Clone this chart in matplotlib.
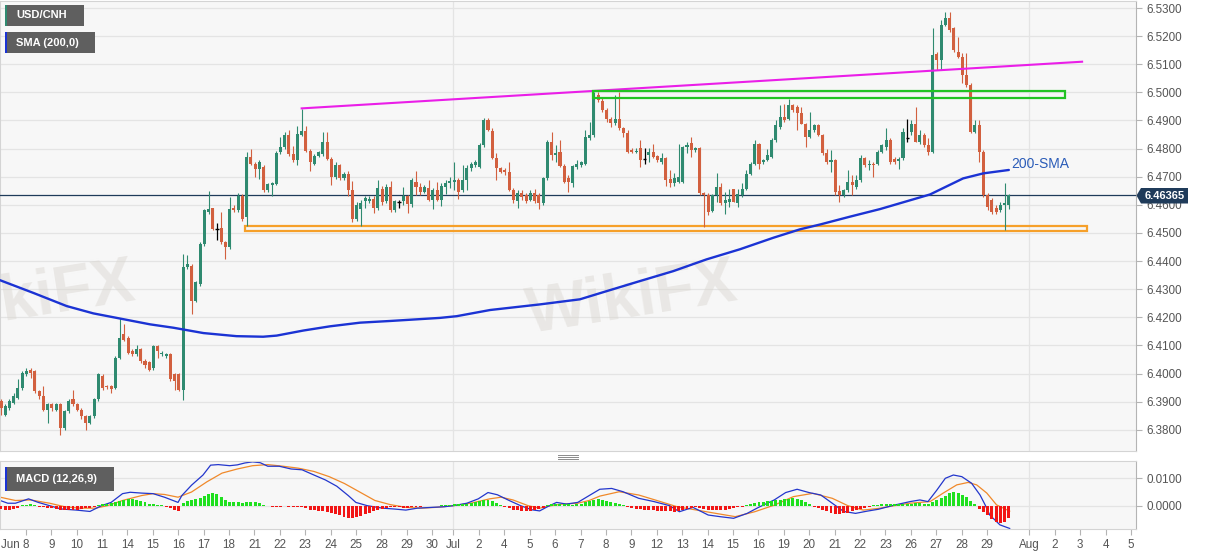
import numpy as np
import matplotlib
matplotlib.use("Agg")
import matplotlib.pyplot as plt
from matplotlib.patches import Rectangle, Polygon
from matplotlib.lines import Line2D
from matplotlib.ticker import FormatStrFormatter
import matplotlib.transforms as mtransforms

plt.rcParams["font.family"] = ["Liberation Sans", "DejaVu Sans"]

# ---------------------------------------------------------------------------
# USD/CNH 4H candles, 8 Jun - 29 Jul
# ---------------------------------------------------------------------------
opens = [
    6.3902, 6.3854, 6.3878, 6.3896, 6.3914, 6.3949, 6.3997, 6.4014, 6.4009, 6.3937,
    6.3920, 6.3872, 6.3890, 6.3872, 6.3890, 6.3807, 6.3866, 6.3908, 6.3890, 6.3870,
    6.3850, 6.3825, 6.3848, 6.3908, 6.3993, 6.3955, 6.3955, 6.3950, 6.4056, 6.4140,
    6.4127, 6.4080, 6.4068, 6.4086, 6.4044, 6.4040, 6.4020, 6.4097, 6.4068, 6.4062,
    6.4068, 6.3997, 6.3997, 6.3943, 6.4378, 6.4384, 6.4259, 6.4319, 6.4461, 6.4574,
    6.4588, 6.4515, 6.4518, 6.4467, 6.4449, 6.4588, 6.4580, 6.4633, 6.4556, 6.4770,
    6.4746, 6.4728, 6.4734, 6.4651, 6.4670, 6.4675, 6.4787, 6.4805, 6.4847, 6.4781,
    6.4758, 6.4849, 6.4864, 6.4793, 6.4746, 6.4775, 6.4781, 6.4823, 6.4764, 6.4698,
    6.4740, 6.4694, 6.4710, 6.4651, 6.4550, 6.4584, 6.4612, 6.4614, 6.4621, 6.4588,
    6.4655, 6.4612, 6.4663, 6.4582, 6.4611, 6.4612, 6.4630, 6.4603, 6.4683, 6.4663,
    6.4647, 6.4659, 6.4618, 6.4651, 6.4618, 6.4663, 6.4677, 6.4683, 6.4689, 6.4651,
    6.4689, 6.4730, 6.4740, 6.4736, 6.4813, 6.4900, 6.4861, 6.4766, 6.4730, 6.4724,
    6.4718, 6.4653, 6.4612, 6.4641, 6.4635, 6.4618, 6.4641, 6.4635, 6.4605, 6.4694,
    6.4824, 6.4777, 6.4789, 6.4738, 6.4697, 6.4676, 6.4733, 6.4741, 6.4747, 6.4836,
    6.4848, 6.4991, 6.4970, 6.4939, 6.4907, 6.4890, 6.4904, 6.4872, 6.4854, 6.4795,
    6.4789, 6.4801, 6.4763, 6.4777, 6.4789, 6.4773, 6.4753, 6.4765, 6.4691, 6.4679,
    6.4682, 6.4682, 6.4807, 6.4819, 6.4795, 6.4801, 6.4641, 6.4635, 6.4577, 6.4634,
    6.4664, 6.4605, 6.4611, 6.4658, 6.4608, 6.4634, 6.4656, 6.4711, 6.4747, 6.4818,
    6.4753, 6.4759, 6.4771, 6.4830, 6.4877, 6.4913, 6.4907, 6.4955, 6.4949, 6.4925,
    6.4889, 6.4842, 6.4866, 6.4883, 6.4848, 6.4783, 6.4753, 6.4759, 6.4649, 6.4634,
    6.4652, 6.4682, 6.4664, 6.4688, 6.4765, 6.4741, 6.4747, 6.4747, 6.4789, 6.4807,
    6.4830, 6.4762, 6.4755, 6.4765, 6.4839, 6.4860, 6.4889, 6.4824, 6.4848, 6.4812,
    6.4789, 6.5135, 6.5115, 6.5240, 6.5263, 6.5228, 6.5145, 6.5127, 6.5062, 6.5026,
    6.4860, 6.4884, 6.4789, 6.4635, 6.4617, 6.4587, 6.4581, 6.4599, 6.4599,
]
highs = [
    6.3908, 6.3890, 6.3908, 6.3931, 6.3979, 6.4009, 6.4020, 6.4020, 6.4014, 6.3943,
    6.3955, 6.3896, 6.3896, 6.3896, 6.3896, 6.3872, 6.3908, 6.3943, 6.3896, 6.3878,
    6.3854, 6.3854, 6.3914, 6.4003, 6.4000, 6.3960, 6.3960, 6.4062, 6.4198, 6.4175,
    6.4133, 6.4086, 6.4103, 6.4092, 6.4050, 6.4046, 6.4103, 6.4103, 6.4080, 6.4074,
    6.4074, 6.4003, 6.4003, 6.4425, 6.4420, 6.4390, 6.4330, 6.4467, 6.4586, 6.4649,
    6.4590, 6.4537, 6.4574, 6.4473, 6.4627, 6.4598, 6.4643, 6.4639, 6.4787, 6.4799,
    6.4752, 6.4758, 6.4740, 6.4679, 6.4681, 6.4790, 6.4841, 6.4858, 6.4865, 6.4810,
    6.4882, 6.4942, 6.4882, 6.4800, 6.4781, 6.4793, 6.4858, 6.4858, 6.4770, 6.4752,
    6.4746, 6.4716, 6.4722, 6.4686, 6.4610, 6.4618, 6.4630, 6.4630, 6.4630, 6.4689,
    6.4668, 6.4675, 6.4686, 6.4618, 6.4618, 6.4665, 6.4636, 6.4695, 6.4722, 6.4677,
    6.4671, 6.4689, 6.4659, 6.4683, 6.4677, 6.4689, 6.4700, 6.4754, 6.4695, 6.4742,
    6.4742, 6.4754, 6.4760, 6.4819, 6.4908, 6.4908, 6.4873, 6.4784, 6.4736, 6.4730,
    6.4754, 6.4659, 6.4653, 6.4653, 6.4641, 6.4653, 6.4658, 6.4641, 6.4700, 6.4830,
    6.4860, 6.4813, 6.4830, 6.4747, 6.4706, 6.4742, 6.4759, 6.4756, 6.4866, 6.4896,
    6.5002, 6.5002, 6.4979, 6.4943, 6.4913, 6.4991, 6.5002, 6.4878, 6.4866, 6.4801,
    6.4801, 6.4830, 6.4801, 6.4801, 6.4818, 6.4777, 6.4783, 6.4771, 6.4724, 6.4712,
    6.4818, 6.4810, 6.4825, 6.4842, 6.4807, 6.4807, 6.4647, 6.4641, 6.4637, 6.4715,
    6.4676, 6.4646, 6.4656, 6.4658, 6.4658, 6.4676, 6.4723, 6.4753, 6.4830, 6.4820,
    6.4762, 6.4800, 6.4836, 6.4901, 6.4955, 6.4960, 6.4976, 6.4960, 6.4955, 6.4949,
    6.4892, 6.4931, 6.4889, 6.4889, 6.4851, 6.4800, 6.4794, 6.4762, 6.4670, 6.4655,
    6.4723, 6.4705, 6.4705, 6.4777, 6.4771, 6.4759, 6.4753, 6.4794, 6.4818, 6.4872,
    6.4836, 6.4771, 6.4771, 6.4872, 6.4907, 6.4901, 6.4948, 6.4866, 6.4854, 6.4836,
    6.5228, 6.5145, 6.5257, 6.5287, 6.5287, 6.5234, 6.5198, 6.5139, 6.5139, 6.5032,
    6.4901, 6.4901, 6.4795, 6.4641, 6.4623, 6.4599, 6.4611, 6.4678, 6.4638,
]
lows = [
    6.3854, 6.3848, 6.3872, 6.3890, 6.3908, 6.3943, 6.3991, 6.3985, 6.3931, 6.3908,
    6.3866, 6.3825, 6.3866, 6.3866, 6.3783, 6.3801, 6.3860, 6.3884, 6.3866, 6.3840,
    6.3801, 6.3819, 6.3842, 6.3902, 6.3943, 6.3945, 6.3931, 6.3945, 6.4050, 6.4115,
    6.4068, 6.4062, 6.4062, 6.4038, 6.4020, 6.4009, 6.4014, 6.4056, 6.4062, 6.4056,
    6.3973, 6.3943, 6.3937, 6.3905, 6.4372, 6.4212, 6.4253, 6.4313, 6.4455, 6.4568,
    6.4510, 6.4475, 6.4461, 6.4408, 6.4443, 6.4575, 6.4574, 6.4544, 6.4526, 6.4740,
    6.4698, 6.4693, 6.4645, 6.4645, 6.4630, 6.4670, 6.4780, 6.4800, 6.4772, 6.4752,
    6.4740, 6.4845, 6.4787, 6.4722, 6.4740, 6.4770, 6.4775, 6.4758, 6.4669, 6.4692,
    6.4688, 6.4688, 6.4633, 6.4538, 6.4544, 6.4525, 6.4588, 6.4608, 6.4570, 6.4582,
    6.4600, 6.4605, 6.4576, 6.4576, 6.4590, 6.4600, 6.4571, 6.4593, 6.4636, 6.4636,
    6.4642, 6.4612, 6.4584, 6.4612, 6.4596, 6.4637, 6.4659, 6.4653, 6.4620, 6.4645,
    6.4653, 6.4720, 6.4735, 6.4730, 6.4807, 6.4861, 6.4762, 6.4689, 6.4712, 6.4706,
    6.4650, 6.4606, 6.4588, 6.4618, 6.4605, 6.4612, 6.4605, 6.4584, 6.4599, 6.4688,
    6.4759, 6.4753, 6.4736, 6.4676, 6.4646, 6.4664, 6.4729, 6.4733, 6.4741, 6.4830,
    6.4842, 6.4967, 6.4931, 6.4895, 6.4878, 6.4884, 6.4866, 6.4842, 6.4785, 6.4785,
    6.4785, 6.4735, 6.4747, 6.4753, 6.4765, 6.4753, 6.4747, 6.4667, 6.4664, 6.4667,
    6.4676, 6.4679, 6.4783, 6.4771, 6.4789, 6.4635, 6.4522, 6.4565, 6.4575, 6.4611,
    6.4599, 6.4569, 6.4593, 6.4609, 6.4593, 6.4628, 6.4652, 6.4705, 6.4741, 6.4729,
    6.4747, 6.4755, 6.4765, 6.4824, 6.4871, 6.4895, 6.4901, 6.4931, 6.4866, 6.4886,
    6.4806, 6.4838, 6.4860, 6.4845, 6.4777, 6.4747, 6.4717, 6.4634, 6.4611, 6.4628,
    6.4646, 6.4634, 6.4658, 6.4682, 6.4735, 6.4723, 6.4700, 6.4741, 6.4783, 6.4795,
    6.4747, 6.4747, 6.4729, 6.4759, 6.4824, 6.4848, 6.4822, 6.4818, 6.4806, 6.4777,
    6.4783, 6.5079, 6.5079, 6.5237, 6.5216, 6.5145, 6.5121, 6.5032, 6.5020, 6.4854,
    6.4854, 6.4753, 6.4629, 6.4581, 6.4569, 6.4569, 6.4575, 6.4512, 6.4585,
]
closes = [
    6.3878, 6.3884, 6.3902, 6.3920, 6.3949, 6.4003, 6.4009, 6.4003, 6.3937, 6.3920,
    6.3872, 6.3890, 6.3878, 6.3890, 6.3807, 6.3866, 6.3902, 6.3890, 6.3872, 6.3848,
    6.3825, 6.3848, 6.3908, 6.3997, 6.3949, 6.3952, 6.3944, 6.4056, 6.4127, 6.4121,
    6.4074, 6.4068, 6.4086, 6.4044, 6.4029, 6.4014, 6.4097, 6.4080, 6.4074, 6.4068,
    6.3979, 6.3973, 6.3943, 6.4380, 6.4390, 6.4259, 6.4325, 6.4461, 6.4580, 6.4586,
    6.4515, 6.4515, 6.4467, 6.4449, 6.4586, 6.4580, 6.4633, 6.4550, 6.4770, 6.4746,
    6.4728, 6.4752, 6.4651, 6.4675, 6.4677, 6.4785, 6.4805, 6.4847, 6.4781, 6.4758,
    6.4853, 6.4864, 6.4793, 6.4752, 6.4775, 6.4787, 6.4823, 6.4764, 6.4698, 6.4740,
    6.4694, 6.4710, 6.4651, 6.4550, 6.4598, 6.4606, 6.4624, 6.4622, 6.4588, 6.4659,
    6.4610, 6.4665, 6.4582, 6.4612, 6.4611, 6.4630, 6.4603, 6.4689, 6.4663, 6.4647,
    6.4663, 6.4618, 6.4653, 6.4618, 6.4667, 6.4679, 6.4686, 6.4689, 6.4647, 6.4689,
    6.4730, 6.4746, 6.4752, 6.4813, 6.4902, 6.4867, 6.4766, 6.4730, 6.4718, 6.4718,
    6.4653, 6.4618, 6.4641, 6.4627, 6.4612, 6.4641, 6.4614, 6.4605, 6.4694, 6.4824,
    6.4777, 6.4783, 6.4738, 6.4682, 6.4682, 6.4738, 6.4747, 6.4753, 6.4842, 6.4848,
    6.4991, 6.4973, 6.4937, 6.4907, 6.4890, 6.4907, 6.4872, 6.4854, 6.4789, 6.4788,
    6.4793, 6.4759, 6.4763, 6.4789, 6.4771, 6.4759, 6.4768, 6.4688, 6.4676, 6.4697,
    6.4700, 6.4807, 6.4813, 6.4795, 6.4801, 6.4643, 6.4635, 6.4575, 6.4634, 6.4664,
    6.4605, 6.4617, 6.4622, 6.4611, 6.4637, 6.4656, 6.4711, 6.4747, 6.4818, 6.4747,
    6.4759, 6.4777, 6.4830, 6.4883, 6.4913, 6.4901, 6.4955, 6.4937, 6.4925, 6.4889,
    6.4842, 6.4866, 6.4883, 6.4848, 6.4783, 6.4753, 6.4759, 6.4646, 6.4634, 6.4652,
    6.4682, 6.4672, 6.4688, 6.4765, 6.4741, 6.4747, 6.4741, 6.4789, 6.4812, 6.4830,
    6.4753, 6.4753, 6.4763, 6.4860, 6.4839, 6.4889, 6.4824, 6.4848, 6.4812, 6.4789,
    6.5133, 6.5115, 6.5240, 6.5263, 6.5222, 6.5151, 6.5127, 6.5062, 6.5026, 6.4860,
    6.4884, 6.4789, 6.4635, 6.4593, 6.4575, 6.4575, 6.4599, 6.4605, 6.4636,
]

# 200-SMA, sampled along the curve (candle index, price)
sma_idx = [-0.24, 7.6, 15.5, 21.8, 27.3, 35.2, 40.7, 47.8, 55.6, 61.9, 65.1, 71.4,
           77.7, 84.8, 91.9, 103.7, 107.6, 115.5, 127.3, 136.7, 143.0, 150.9, 158.7,
           166.6, 174.5, 182.4, 188.7, 193.4, 200.5, 207.6, 219.4, 227.2, 232.0, 238.0]
sma_val = [6.4332, 6.4287, 6.4240, 6.4214, 6.4198, 6.4175, 6.4163, 6.4144, 6.4133,
           6.4131, 6.4135, 6.4153, 6.4168, 6.4181, 6.4187, 6.4198, 6.4204, 6.4226,
           6.4246, 6.4264, 6.4293, 6.4329, 6.4364, 6.4406, 6.4442, 6.4483, 6.4513,
           6.4530, 6.4558, 6.4585, 6.4637, 6.4694, 6.4712, 6.4724]

# MACD (12,26,9)
macd_idx = [-0.2, 1.6, 3.4, 6.5, 8.8, 11.5, 14.2, 17.8, 21.0, 23.7, 26.0, 28.7, 30.5,
            33.2, 35.9, 38.6, 41.8, 42.7, 45.0, 47.7, 49.5, 51.3, 54.0, 55.8, 57.6,
            59.4, 61.2, 63.0, 65.7, 68.5, 71.1, 73.9, 76.6, 79.3, 82.0, 83.8, 86.5,
            90.1, 92.8, 95.6, 98.3, 101.9, 104.6, 106.8, 110.0, 112.7, 115.0, 117.2,
            120.0, 122.7, 125.4, 127.2, 129.0, 131.2, 133.5, 136.2, 138.9, 141.4,
            144.2, 146.9, 150.6, 154.2, 157.9, 160.2, 163.4, 167.0, 169.8, 173.0,
            176.2, 178.9, 182.6, 185.3, 188.0, 190.8, 193.6, 196.3, 199.0, 201.8,
            204.5, 207.2, 210.9, 214.7, 217.0, 218.9, 221.0, 223.0, 224.9, 226.9,
            229.2, 231.2, 232.4, 233.5, 235.9, 238.2]
macd_val = [0.0019, 0.0009, 0.0009, 0.0025, 0.0012, 0.0000, -0.0012, -0.0016, -0.0021,
            0.0000, 0.0012, 0.0044, 0.0049, 0.0046, 0.0044, 0.0031, 0.0012, 0.0037,
            0.0075, 0.0112, 0.0148, 0.0150, 0.0146, 0.0149, 0.0156, 0.0160, 0.0157,
            0.0144, 0.0144, 0.0134, 0.0131, 0.0112, 0.0094, 0.0071, 0.0037, 0.0012,
            0.0000, -0.0009, -0.0012, -0.0016, -0.0009, -0.0006, -0.0004, 0.0000,
            0.0009, 0.0025, 0.0048, 0.0040, 0.0019, 0.0000, -0.0015, -0.0019, -0.0004,
            0.0012, 0.0006, 0.0012, 0.0037, 0.0060, 0.0063, 0.0051, 0.0027, 0.0015,
            0.0000, -0.0022, -0.0006, -0.0034, -0.0040, -0.0046, -0.0028, -0.0006,
            0.0021, 0.0048, 0.0060, 0.0048, 0.0039, 0.0009, -0.0021, -0.0028, -0.0020,
            -0.0013, 0.0002, 0.0015, 0.0021, 0.0015, 0.0057, 0.0100, 0.0112, 0.0106,
            0.0082, 0.0039, 0.0003, -0.0034, -0.0070, -0.0083]
signal_idx = [-0.2, 3.4, 7.0, 11.5, 15.1, 18.7, 22.3, 25.1, 28.7, 33.2, 35.9, 38.6,
              41.8, 45.0, 48.6, 52.2, 55.8, 59.4, 63.0, 66.6, 70.2, 73.9, 77.5, 81.1,
              84.7, 88.3, 91.9, 95.6, 99.2, 102.8, 106.8, 110.9, 115.4, 118.1, 120.9,
              124.5, 127.2, 129.9, 132.6, 136.2, 138.9, 141.4, 146.0, 150.6, 155.1,
              159.7, 164.3, 168.8, 173.4, 178.0, 182.6, 187.1, 191.7, 196.3, 200.0,
              203.6, 207.2, 210.9, 214.6, 219.4, 222.5, 225.7, 228.4, 230.4, 232.8,
              235.1, 238.2]
signal_val = [0.0031, 0.0019, 0.0021, 0.0009, -0.0004, -0.0009, -0.0009, 0.0000, 0.0019,
              0.0037, 0.0044, 0.0041, 0.0031, 0.0050, 0.0087, 0.0119, 0.0134, 0.0146,
              0.0150, 0.0144, 0.0137, 0.0125, 0.0106, 0.0081, 0.0050, 0.0019, 0.0004,
              -0.0006, -0.0009, -0.0006, 0.0000, 0.0009, 0.0025, 0.0031, 0.0021, 0.0000,
              -0.0009, 0.0000, 0.0006, 0.0009, 0.0019, 0.0035, 0.0051, 0.0039, 0.0018,
              -0.0004, -0.0016, -0.0028, -0.0040, -0.0022, 0.0002, 0.0033, 0.0045,
              0.0027, 0.0000, -0.0016, -0.0010, 0.0000, 0.0009, 0.0015, 0.0046, 0.0076,
              0.0085, 0.0076, 0.0046, 0.0003, -0.0020]
hist = [
    -0.0013, -0.0014, -0.0015, -0.0012, -0.0008, 0.0002, 0.0004, 0.0005, 0.0003,
    -0.0003, -0.0006, -0.0008, -0.0010, -0.0012, -0.0014, -0.0016, -0.0017, -0.0016,
    -0.0014, -0.0012, -0.0010, -0.0008, -0.0004,
    0.0003, 0.0006, 0.0008, 0.0010, 0.0012,
    0.0016, 0.0020, 0.0024, 0.0025, 0.0022, 0.0018,
    0.0012, 0.0008, 0.0005, 0.0003, 0.0002,
    -0.0006, -0.0010, -0.0016, -0.0019,
    0.0009, 0.0016, 0.0019, 0.0023, 0.0028, 0.0036, 0.0044, 0.0048,
    0.0042, 0.0032, 0.0022,
    0.0015, 0.0013, 0.0012, 0.0011, 0.0013, 0.0015, 0.0014, 0.0010,
    0.0004, -0.0001, -0.0003, -0.0005, -0.0003, -0.0001, -0.0003, -0.0005, -0.0006, -0.0004,
    -0.0010, -0.0014, -0.0016, -0.0018, -0.0020, -0.0023, -0.0027, -0.0031, -0.0035,
    -0.0040, -0.0044, -0.0045, -0.0042, -0.0036, -0.0030, -0.0025, -0.0020, -0.0016, -0.0012,
    -0.0008, -0.0006, -0.0005, -0.0005, -0.0007, -0.0008, -0.0006, -0.0004, -0.0003,
    -0.0002, -0.0002, -0.0001, -0.0001, 0.0001, 0.0002,
    0.0004, 0.0005, 0.0006, 0.0007, 0.0008, 0.0010, 0.0013, 0.0016, 0.0020, 0.0022, 0.0018, 0.0010,
    0.0004, -0.0004, -0.0010, -0.0014, -0.0017, -0.0020, -0.0021, -0.0019, -0.0016, -0.0012, -0.0008,
    0.0002, 0.0005, 0.0007, 0.0007, 0.0006, 0.0005, 0.0004, 0.0005, 0.0008, 0.0012, 0.0016,
    0.0020, 0.0024,
    0.0020, 0.0016, 0.0012, 0.0009, 0.0005, 0.0002,
    -0.0005, -0.0008, -0.0011, -0.0013, -0.0015, -0.0016, -0.0017, -0.0018, -0.0019,
    -0.0020, -0.0021, -0.0022, -0.0020, -0.0016, -0.0011, -0.0008,
    -0.0006, -0.0009, -0.0012, -0.0014, -0.0016, -0.0017, -0.0016, -0.0014, -0.0012,
    -0.0009, -0.0006, -0.0003,
    0.0003, 0.0006, 0.0009, 0.0012, 0.0014, 0.0016, 0.0017, 0.0019, 0.0021, 0.0024,
    0.0026, 0.0027, 0.0025, 0.0020, 0.0014, 0.0008,
    -0.0004, -0.0010, -0.0016, -0.0021, -0.0025, -0.0029, -0.0030, -0.0028, -0.0025,
    -0.0021, -0.0017, -0.0013, -0.0009, -0.0005,
    0.0002, 0.0004, 0.0005, 0.0006, 0.0007, 0.0008, 0.0006, 0.0005, 0.0006, 0.0008,
    0.0010, 0.0009, 0.0007, 0.0006,
    0.0012, 0.0020, 0.0028, 0.0036, 0.0045, 0.0051, 0.0048, 0.0040, 0.0030, 0.0018,
    0.0008, -0.0012, -0.0022, -0.0035, -0.0048, -0.0058, -0.0062, -0.0058, -0.0045,
]

last_price = 6.46365
trend_start = (71.0, 6.4943)      # magenta resistance line
trend_end = (255.3, 6.5109)
green_zone = (139.9, 251.3, 6.4979, 6.5006)
orange_zone = (57.6, 256.4, 6.4506, 6.4524)

tick_labels = ["Jun 8", "9", "10", "11", "14", "15", "16", "17", "18", "21", "22",
               "23", "24", "25", "28", "29", "30",
               "Jul", "2", "4", "5", "6", "7", "8", "9", "12", "13", "14", "15",
               "16", "19", "20", "21", "22", "23", "26", "27", "28", "29",
               "Aug", "2", "3", "4", "5"]

# ---------------------------------------------------------------------------
UP, DOWN = "#2f8a70", "#d2603f"
GRID = "#e4e4e4"
W, H, DPI = 1207, 555, 100

# day ticks: six 4H candles per day, three runs (June / July / August)
tick_pos = ([5.85 + 6 * k for k in range(17)] + [106.85 + 6 * k for k in range(22)]
            + [242.85 + 6 * k for k in range(5)])
month_lines = [106.85, 242.85]


def fx(px):
    return px / W


def fy(py):
    return 1 - py / H


fig = plt.figure(figsize=(W / DPI, H / DPI), dpi=DPI, facecolor="white")
ax = fig.add_axes([fx(0), fy(451), fx(1136.3), 450 / H])
axm = fig.add_axes([fx(0), fy(529.3), fx(1136.3), 68.6 / H], sharex=ax)

for a in (ax, axm):
    a.set_facecolor("#f7f7f7")
    for s in ("top", "left", "bottom"):
        a.spines[s].set_color("#d4d4d4")
    a.spines["right"].set_color("#b4b4b4")
    a.yaxis.tick_right()
    a.tick_params(axis="y", length=4, width=0.8, color="#b4b4b4",
                  labelcolor="#555555", labelsize=8.4, pad=3)
    for m in month_lines:
        a.axvline(m, color=GRID, lw=0.9, zorder=0.6)

# ---- main panel -----------------------------------------------------------
x = np.arange(len(opens))
o, h, l, c = (np.array(v) for v in (opens, highs, lows, closes))
up, dn, flat = c > o, c < o, c == o
min_h = 0.00004

ax.vlines(x[up], l[up], h[up], color=UP, lw=0.8, zorder=3)
ax.vlines(x[dn], l[dn], h[dn], color=DOWN, lw=0.8, zorder=3)
ax.vlines(x[flat], l[flat], h[flat], color="black", lw=0.9, zorder=3)
ax.bar(x[up], np.maximum(c[up] - o[up], min_h), bottom=o[up], width=0.72,
       color=UP, zorder=4)
ax.bar(x[dn], np.maximum(o[dn] - c[dn], min_h), bottom=c[dn], width=0.72,
       color=DOWN, zorder=4)
ax.hlines(o[flat], x[flat] - 0.4, x[flat] + 0.4, color="black", lw=1.0, zorder=4)

ax.plot(sma_idx, sma_val, color="#1b33d4", lw=1.7, zorder=5,
        solid_capstyle="round")
ax.plot([trend_start[0], trend_end[0]], [trend_start[1], trend_end[1]],
        color="#ea1ee8", lw=1.5, zorder=6)
gx0, gx1, gy0, gy1 = green_zone
ax.add_patch(Rectangle((gx0, gy0), gx1 - gx0, gy1 - gy0, fill=False,
                       edgecolor="#22c323", lw=1.6, zorder=6))
ox0, ox1, oy0, oy1 = orange_zone
ax.add_patch(Rectangle((ox0, oy0), ox1 - ox0, oy1 - oy0, fill=False,
                       edgecolor="#f6a02a", lw=1.6, zorder=2.5))
ax.axhline(last_price, color="#1f3b5a", lw=0.9, zorder=2.8)
ax.text(238.6, 6.4745, "200-SMA", color="#2b5cb8", fontsize=10,
        ha="left", va="center", zorder=7)

# faint watermarks
for wx in (30, 632):
    ax.text(fx(wx), fy(300), "WikiFX", transform=fig.transFigure, fontsize=46,
            fontweight="bold", color="#d9d5cf", alpha=0.45, ha="center",
            va="center", rotation=9, zorder=0.7, clip_on=True)

ax.set_xlim(-0.24, 268.1)
ax.set_ylim(6.37246, 6.53249)
ax.set_yticks(np.round(np.arange(6.38, 6.5301, 0.01), 2))
ax.yaxis.set_major_formatter(FormatStrFormatter("%.4f"))
ax.grid(axis="y", color=GRID, lw=0.9, zorder=0.5)
ax.set_axisbelow(True)
ax.tick_params(axis="x", bottom=False, labelbottom=False)

# ---- MACD panel -----------------------------------------------------------
hv = np.array(hist)
hx = np.arange(len(hv))
axm.plot(signal_idx, signal_val, color="#f0892a", lw=0.9, zorder=2)
axm.plot(macd_idx, macd_val, color="#2336cc", lw=0.9, zorder=2)
axm.bar(hx, hv, width=0.7, color=np.where(hv >= 0, "#1fe01f", "#f21515"),
        zorder=3)
axm.set_ylim(-0.008613, 0.016423)
axm.set_yticks([0.0, 0.01])
axm.yaxis.set_major_formatter(FormatStrFormatter("%.4f"))
axm.grid(axis="y", color=GRID, lw=0.9, zorder=0.5)
axm.set_axisbelow(True)
axm.set_xticks(tick_pos)
axm.set_xticklabels(tick_labels)
axm.tick_params(axis="x", length=4, width=0.8, color="#b4b4b4",
                labelcolor="#555555", labelsize=8.4, pad=3)
first = axm.get_xticklabels()[0]
first.set_horizontalalignment("right")
first.set_transform(first.get_transform()
                    + mtransforms.ScaledTranslation(4 / DPI, 0, fig.dpi_scale_trans))


# ---- overlay labels -------------------------------------------------------
def tag(x0, y0, x1, y1, text, stripe):
    fig.add_artist(Rectangle((fx(x0), fy(y1)), fx(x1 - x0), (y1 - y0) / H,
                             transform=fig.transFigure, facecolor="#5f5f5f",
                             edgecolor="none", zorder=10))
    fig.add_artist(Rectangle((fx(x0), fy(y1)), fx(2), (y1 - y0) / H,
                             transform=fig.transFigure, facecolor=stripe,
                             edgecolor="none", zorder=11))
    fig.text(fx(x0 + 11), fy((y0 + y1) / 2), text, color="white", fontsize=8,
             fontweight="bold", ha="left", va="center", zorder=12)


tag(5, 5, 84, 26, "USD/CNH", UP)
tag(5, 32, 95, 53, "SMA (200,0)", "#1b33d4")
tag(5, 467, 114, 491, "MACD (12,26,9)", "#1b33d4")

# last price flag on the right axis
flag = [(1136.5, 195.5), (1141, 188), (1188, 188), (1188, 203.5), (1141, 203.5)]
fig.add_artist(Polygon([(fx(px), fy(py)) for px, py in flag], closed=True,
                       transform=fig.transFigure, facecolor="#1f3b5a",
                       edgecolor="none", zorder=10))
fig.text(fx(1164.5), fy(195.8), f"{last_price:.5f}", color="white", fontsize=8,
         fontweight="bold", ha="center", va="center", zorder=12)

# pane resize handle
for hy in (455, 457, 459):
    fig.add_artist(Line2D([fx(558), fx(578)], [fy(hy), fy(hy)], color="#8a8a8a",
                          lw=0.7, transform=fig.transFigure))

fig.savefig("out.png", dpi=DPI, facecolor="white")
